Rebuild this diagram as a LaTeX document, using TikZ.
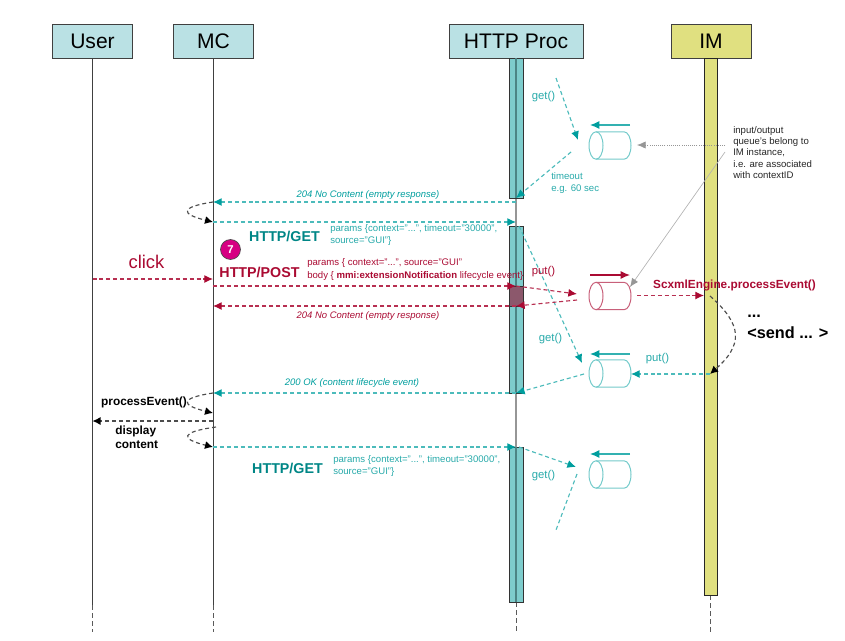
\documentclass[tikz,border=0pt]{standalone}
\usepackage{fontspec}
\setmainfont{Liberation Sans}
\usetikzlibrary{arrows.meta}
\definecolor{tealc}{RGB}{0,158,158}
\definecolor{tealt}{RGB}{40,170,170}
\definecolor{redc}{RGB}{170,10,50}
\definecolor{headc}{RGB}{186,225,228}
\definecolor{barc}{RGB}{126,204,204}
\definecolor{imc}{RGB}{224,224,128}
\definecolor{greyc}{RGB}{150,150,150}
\tikzset{
  head/.style={draw=black!75, line width=0.6pt, minimum height=25pt, inner sep=0pt, font=\fontsize{15.8}{18}\selectfont},
  life/.style={draw=black!75, line width=0.6pt},
  bar/.style={draw=black!80, line width=0.7pt, fill=barc},
  msg/.style={dashed, dash pattern=on 3pt off 2.2pt, line width=0.85pt, -{Latex[length=6.5pt,width=6pt]}},
  plain/.style={dashed, dash pattern=on 3pt off 2.2pt, line width=0.85pt},
  tealmsg/.style={msg, color=tealc!70!white, -{Latex[length=6.5pt,width=6pt,color=tealc]}},
  tealplain/.style={plain, color=tealc!70!white},
  redmsg/.style={msg, color=redc!85!white, -{Latex[length=6.5pt,width=6pt,color=redc]}},
  blackmsg/.style={msg, color=black!70, -{Latex[length=6pt,width=6pt,color=black]}},
  queue/.pic={
    \draw[line width=0.75pt] (-14,0) ellipse (7 and 13.7);
    \draw[line width=0.75pt] (-14,-13.7) -- (14,-13.7) .. controls (18,-13.7) and (21,-7.5) .. (21,0)
      .. controls (21,7.5) and (18,13.7) .. (14,13.7) -- (-14,13.7);
  },
  small/.style={inner sep=0pt, anchor=west, align=left, font=\fontsize{7.2}{8.3}\selectfont},
  lbl/.style={inner sep=0pt, font=\fontsize{8.5}{10}\selectfont},
  big/.style={inner sep=0pt, font=\bfseries\fontsize{10.7}{12}\selectfont},
  reply/.style={inner sep=0pt, font=\itshape\fontsize{7.1}{8}\selectfont}
}
\begin{document}
\begin{tikzpicture}[x=0.75pt, y=-0.75pt]
\useasboundingbox (0,0) rectangle (845,640);
% lifelines
\foreach \n/\x in {user/92.5, mc/213, http/516, im/710}{
  \coordinate (\n top) at (\x,58);
  \coordinate (\n low) at (\x,632);
}
\coordinate (userend) at (92.5,605);
\coordinate (mcend) at (213,605);
\coordinate (httpend) at (516,602);
\coordinate (imend) at (710,595);
\draw[life] (usertop) -- (userend);
\draw[life] (mctop) -- (mcend);
\draw[line width=1pt, greyc] (httptop) -- (httpend);
\foreach \n in {user, mc, http, im}
  \draw[life, dashed, dash pattern=on 3.5pt off 2.5pt, greyc!60!black] (\n end) -- (\n low);
% heads
\node[head, fill=headc, minimum width=60.5pt] (user) at (92.5,41.5) {User};
\node[head, fill=headc, minimum width=60.5pt] (mc) at (213.5,41.5) {MC};
\node[head, fill=headc, minimum width=100.5pt] (http) at (516,41.5) {HTTP Proc};
\node[head, fill=imc, minimum width=60pt] (im) at (711,41.5) {IM};
% activation bars
\foreach \a/\b in {58/198, 226/393, 447/602}{
  \draw[bar] (509,\a) rectangle (523,\b);
  \draw[line width=0.8pt, tealc!50!black!70] (516,\a) -- (516,\b);
}
\definecolor{overlapc}{RGB}{140,88,108}
\draw[bar, fill=overlapc] (509,286) rectangle (523,306);
\draw[draw=black!85, line width=0.7pt, fill=imc] (704,58) rectangle (717,595);
% queues
\pic[tealc!55!white] (q1) at (610,145.5) {queue};
\pic[redc!65!white] (q2) at (610,296) {queue};
\pic[tealc!55!white] (q3) at (610,373.5) {queue};
\pic[tealc!55!white] (q4) at (610,474.5) {queue};
\foreach \q/\y in {q1/125, q3/354, q4/454}{
  \coordinate (\q a) at (630,\y);
  \coordinate (\q b) at (590,\y);
  \draw[line width=0.9pt, tealc!80!white, -{Latex[length=7pt,width=6pt,color=tealc]}] (\q a) -- (\q b);
}
\coordinate (q2a) at (590,275);
\coordinate (q2b) at (630,275);
\draw[line width=0.9pt, redc, -{Latex[length=7pt,width=6pt]}] (q2a) -- (q2b);
% get/timeout loops
\coordinate (g1a) at (556,78);
\coordinate (g1b) at (578,140);
\coordinate (g1c) at (571,152);
\coordinate (h1) at (516,198);
\coordinate (mc1) at (213,202);
\coordinate (h2) at (516,202);
\draw[tealmsg] (g1a) -- (g1b);
\draw[tealmsg] (g1c) -- (h1);
\coordinate (h3) at (516,222);
\coordinate (mc2) at (213,222);
\draw[tealmsg] (h2) -- (mc1);
\draw[tealmsg] (mc2) -- (h3);
\draw[blackmsg] (mc1) .. controls (180,207) and (180,214) .. (mc2);
\coordinate (g2a) at (519,226);
\coordinate (g2b) at (582,363);
\draw[tealmsg] (g2a) -- (g2b);
\coordinate (g3a) at (584,374);
\coordinate (h4) at (516,393);
\coordinate (mc3) at (213,393);
\draw[tealmsg] (g3a) -- (h4);
\draw[tealmsg] (h4) -- (mc3);
\coordinate (h5) at (516,447);
\coordinate (mc5) at (213,447);
\draw[tealmsg] (mc5) -- (h5);
\coordinate (g4a) at (519,447);
\coordinate (g4b) at (576,467);
\coordinate (g4c) at (577,474);
\coordinate (g4d) at (556,530);
\draw[tealmsg] (g4a) -- (g4b);
\draw[tealplain] (g4c) -- (g4d);
% click and post
\coordinate (u1) at (92.5,279);
\coordinate (mc6) at (213,279);
\draw[redmsg] (u1) -- (mc6);
\coordinate (mc7) at (213,286);
\coordinate (h6) at (516,286);
\coordinate (q2in) at (577,294);
\coordinate (q2out) at (577,300);
\coordinate (h7) at (516,306);
\coordinate (mc8) at (213,306);
\draw[redmsg] (mc7) -- (h6);
\draw[redmsg] (h6) -- (q2in);
\draw[redmsg] (q2out) -- (h7);
\draw[redmsg] (h7) -- (mc8);
\coordinate (q2r) at (637,295.5);
\coordinate (im1) at (704,295.5);
\draw[redmsg] (q2r) -- (im1);
% im side
\coordinate (im2) at (710,374);
\coordinate (q3r) at (631,374);
\draw[tealmsg] (im2) -- (q3r);
\coordinate (im3) at (710,296);
\draw[blackmsg] (im3) .. controls (743,325) and (743,345) .. (im2);
% notes pointers
\coordinate (n1) at (725,145);
\coordinate (q1p) at (637,145);
\draw[greyc, densely dotted, line width=0.6pt, -{Latex[length=6.5pt,width=5.5pt,color=greyc]}] (n1) -- (q1p);
\coordinate (n2) at (725,152);
\coordinate (q2p) at (630,287);
\draw[black!30, line width=0.5pt, -{Latex[length=6.5pt,width=5.5pt,color=greyc]}] (n2) -- (q2p);
% processEvent and display loops
\coordinate (mc9) at (213,413);
\draw[blackmsg] (mc3) .. controls (180,398) and (180,405) .. (mc9);
\coordinate (mc10) at (213,421);
\coordinate (u2) at (92.5,421);
\draw[blackmsg] (mc10) -- (u2);
\coordinate (mc11) at (216,427);
\coordinate (mc12) at (213,447);
\draw[blackmsg] (mc11) .. controls (180,432) and (180,439) .. (mc12);
% labels
\node[lbl, color=tealt] (l1) at (543.5,97) {get()};
\node[small, color=tealt, font=\fontsize{7.2}{9}\selectfont] (l2) at (551,183) {timeout\\e.g. 60 sec};
\node[lbl, color=redc] (l3) at (543.5,272) {put()};
\node[lbl, color=tealt] (l4) at (550.5,339) {get()};
\node[lbl, color=tealt] (l5) at (657.5,359) {put()};
\node[lbl, color=tealt] (l6) at (543.5,476) {get()};
\node[inner sep=0pt, font=\fontsize{13.8}{16}\selectfont, color=redc] (click) at (146.5,262) {click};
\node[small, color=black!85, font=\fontsize{7.2}{8.5}\selectfont] (note) at (733,152.5) {input/output\\queue's belong to\\IM instance,\\i.e. are associated\\with contextID};
\node[reply, color=tealc] (ok1) at (368,195.5) {204 No Content (empty response)};
\node[reply, color=redc] (ok2) at (368,316.5) {204 No Content (empty response)};
\node[reply, color=tealc] (ok3) at (352,383.5) {200 OK (content  lifecycle event)};
\node[big, color=tealc!85!black] (get1) at (284.5,236) {HTTP/GET};
\node[small, color=tealt] (par1) at (330,235) {params \{context="...", timeout="30000",\\source="GUI"\}};
\node[big, color=redc] (post) at (259.5,272.5) {HTTP/POST};
\node[small, color=redc, font=\fontsize{7.2}{9.75}\selectfont] (par2) at (307,269.5) {params \{ context="...", source="GUI"\\body \{ \textbf{mmi:extensionNotification} lifecycle event\}};
\node[big, color=tealc!85!black] (get2) at (287.5,468.5) {HTTP/GET};
\node[small, color=tealt] (par3) at (333,466) {params \{context="...", timeout="30000",\\source="GUI"\}};
\definecolor{sevenc}{RGB}{214,0,130}
\node[circle, draw=black!70, line width=0.5pt, fill=sevenc, minimum size=15pt, inner sep=0pt, text=white, font=\bfseries\fontsize{8.5}{10}\selectfont] (seven) at (230.5,249.5) {7};
\node[inner sep=0pt, font=\bfseries\fontsize{8.85}{10}\selectfont, color=redc] (engine) at (734.5,285.5) {ScxmlEngine.processEvent()};
\node[inner sep=0pt, anchor=west, align=left, font=\bfseries\fontsize{12.2}{15.5}\selectfont] (send) at (747,327) {...\\<send ... >};
\node[inner sep=0pt, font=\bfseries\fontsize{8.9}{10}\selectfont] (pe) at (144,402) {processEvent()};
\node[inner sep=0pt, anchor=west, align=left, font=\bfseries\fontsize{8.9}{10.2}\selectfont] (disp) at (115,437) {display\\content};
\end{tikzpicture}
\end{document}
